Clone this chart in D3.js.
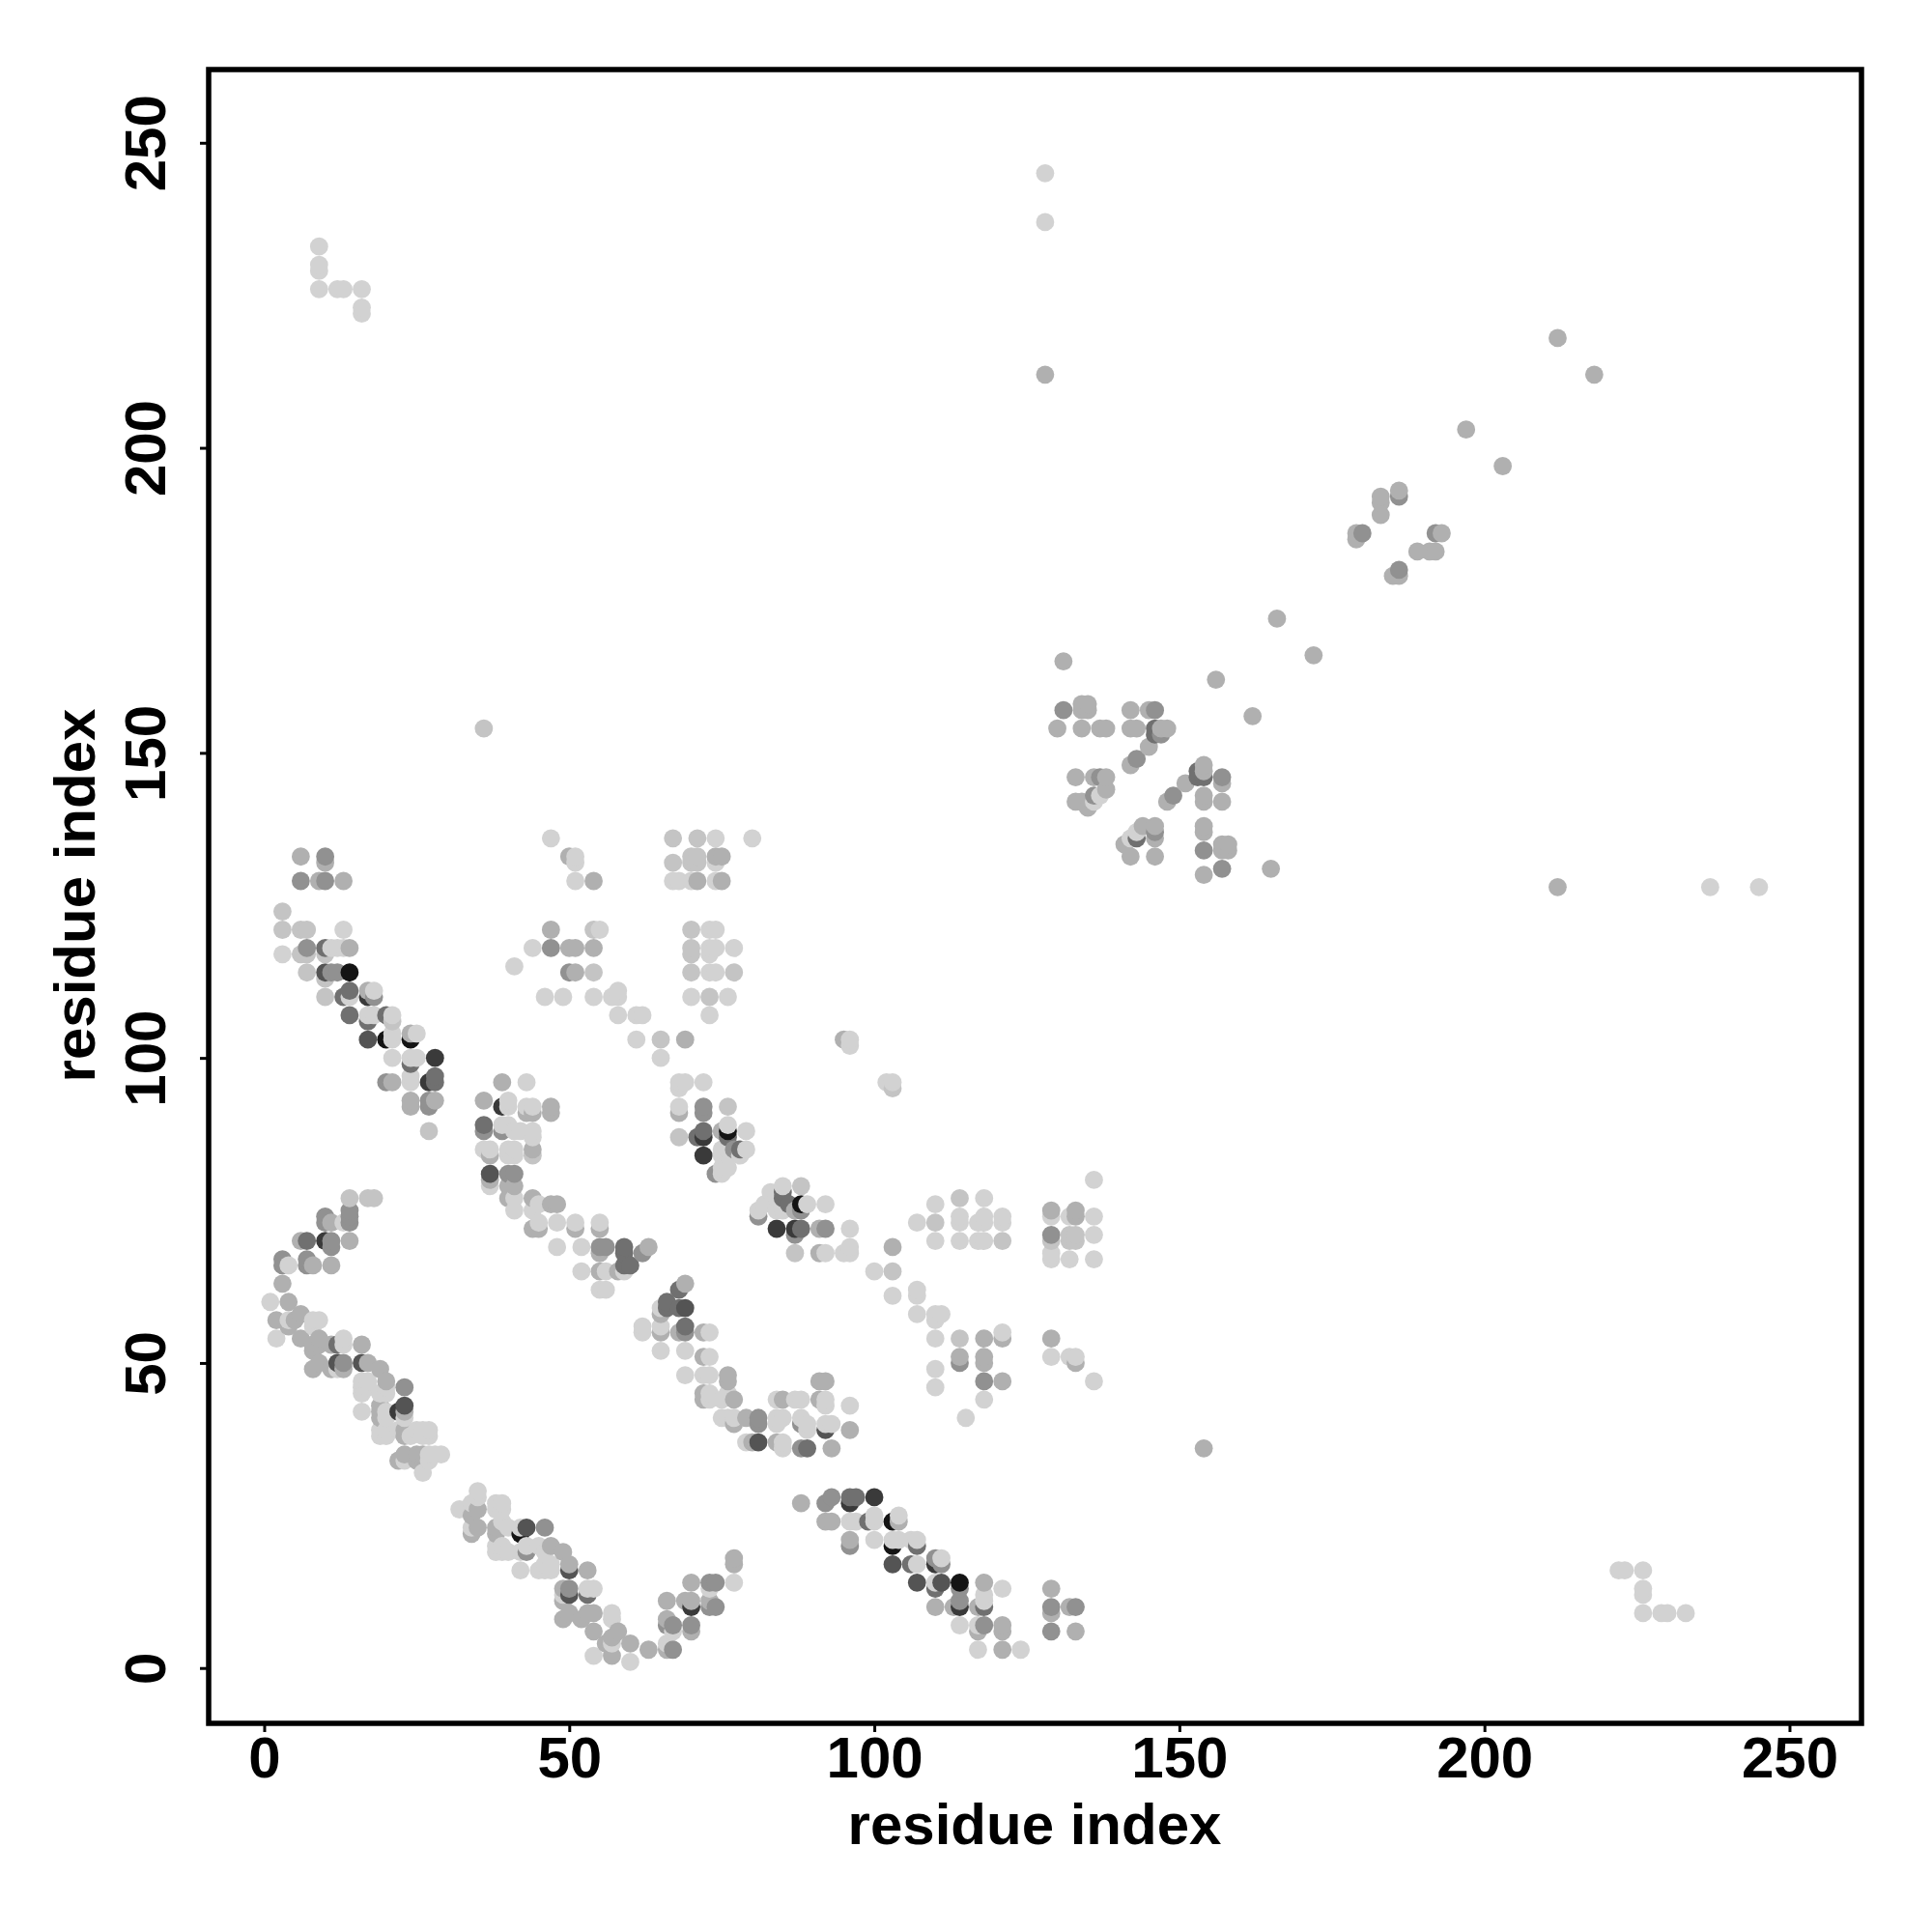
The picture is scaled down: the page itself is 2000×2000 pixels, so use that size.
<!DOCTYPE html>
<html><head><meta charset="utf-8">
<script src="https://cdn.jsdelivr.net/npm/d3@7"></script>
<style>html,body{margin:0;background:#fff}svg{display:block}</style></head>
<body><div id="chart"></div>
<script>
// each contact: [residue i, residue j, strength level 1 (weak) .. 8 (strong)]
const arcLow=[[14,77,2],[17,77,2],[18,77,2],[10,74,4],[14,75,4],[14,74,4],[10,73,4],[11,73,3],[13,73,1],[14,73,4],[14,70,3],[11,70,4],[11,69,4],[10,70,7],[7,70,5],[6,70,3],[11,66,3],[8,66,3],[7,67,4],[7,66,4],[4,66,1],[3,67,4],[3,66,4],[3,63,3],[1,60,1],[4,60,3],[6,58,3],[5,57,3],[2,57,3],[4,57,1],[4,56,3],[8,57,1],[9,57,1],[8,56,1],[2,54,1],[6,54,3],[9,54,3],[8,53,3],[9,53,3],[8,52,3],[13,54,1],[13,53,1],[12,53,5],[16,53,3],[11,53,3],[12,50,6],[13,50,4],[16,50,6],[17,50,3],[9,50,3],[8,49,3],[11,49,3],[12,49,1],[13,49,3],[19,49,3],[20,47,3],[16,47,1],[17,47,1],[23,46,4],[16,46,1],[17,46,1],[20,46,1],[16,45,1],[19,45,1],[20,45,1],[16,42,1],[23,43,6],[22,42,7],[23,42,3],[23,41,1],[19,43,3],[19,42,3],[20,42,1],[19,41,3],[20,41,1],[19,39,1],[19,38,1],[20,39,1],[20,38,1],[22,39,1],[23,39,3],[23,38,3],[24,38,1],[25,39,1],[26,39,1],[27,39,1],[26,38,1],[27,38,1],[22,34,3],[23,35,3],[23,34,1],[25,34,3],[25,35,3],[26,35,3],[27,35,1],[27,34,1],[29,35,1],[28,35,1],[26,32,1]];
const arcBottom=[[32,26,1],[35,29,1],[35,28,1],[34,27,1],[35,26,3],[34,25,3],[34,23,1],[34,22,3],[35,23,3],[38,27,1],[39,27,1],[38,26,1],[39,26,1],[39,24,1],[38,23,3],[38,22,3],[40,23,1],[43,23,6],[46,23,4],[42,22,8],[42,23,1],[38,20,1],[38,19,1],[39,20,1],[39,19,1],[40,19,1],[43,20,1],[43,19,4],[42,19,1],[45,20,1],[47,20,3],[49,19,3],[46,19,1],[42,16,1],[45,16,1],[46,17,1],[47,17,1],[46,16,1],[47,16,1],[50,17,3],[50,16,6],[53,16,3],[50,13,4],[50,12,6],[49,13,3],[49,12,1],[49,11,3],[53,13,1],[54,13,1],[53,12,5],[50,9,3],[49,8,3],[52,8,3],[53,9,3],[54,9,3],[57,9,1],[57,8,1],[54,6,3],[58,6,3],[57,5,3],[56,4,3],[57,4,1],[60,4,3],[54,2,1],[57,2,3],[60,1,1],[63,3,3],[66,11,3],[66,8,3],[66,7,4],[67,7,4],[66,4,1],[66,3,3],[67,3,4],[67,6,1],[70,14,3],[73,14,4],[74,14,4],[77,14,1],[77,18,3],[77,17,3],[69,11,3],[70,11,3],[70,10,7],[73,13,1],[73,11,3],[73,10,4],[74,10,4],[70,7,4],[70,6,3]];
const bandMid=[[69,63,3],[68,62,5],[66,60,5],[66,59,5],[65,59,1],[65,58,3],[68,59,5],[69,59,6],[62,56,1],[62,55,1],[65,56,1],[65,55,3],[68,55,3],[69,56,5],[69,55,4],[72,55,3],[73,55,1],[65,52,1],[69,52,1],[72,51,3],[73,51,1],[69,48,1],[72,48,1],[73,48,1],[76,48,3],[76,47,3],[72,45,3],[73,45,1],[72,44,3],[73,44,1],[75,44,1],[76,45,1],[77,44,3],[75,41,1],[76,41,1],[77,41,1],[77,40,3],[79,41,3],[81,41,4],[81,40,4],[79,37,1],[80,37,3],[81,37,6],[84,44,1],[85,44,3],[87,44,1],[88,44,1],[84,41,1],[85,41,1],[84,40,1],[84,37,3],[85,37,1],[85,36,1],[88,41,1],[89,40,1],[88,40,4],[89,39,1],[88,36,4],[89,36,5],[91,47,3],[92,47,3],[91,44,3],[92,44,1],[92,43,1],[92,40,1],[93,40,1],[92,39,6],[96,43,1],[96,39,3],[93,36,3]];
const bandLow=[[88,27,3],[92,27,4],[93,28,4],[96,28,5],[97,28,5],[96,27,7],[100,28,7],[92,24,3],[93,24,3],[96,24,1],[97,24,1],[99,24,5],[100,25,1],[100,24,1],[103,24,8],[104,25,1],[104,24,3],[96,21,3],[96,20,4],[100,21,1],[103,21,1],[103,20,8],[104,21,1],[106,21,1],[107,21,1],[107,20,5],[103,17,6],[106,17,5],[107,17,1],[110,18,4],[111,18,1],[110,17,7],[111,17,4],[107,14,6],[110,14,1],[111,14,6],[110,13,5],[114,14,8],[114,13,4],[114,11,4],[114,10,7],[110,10,3],[113,10,3],[118,14,3],[118,12,1],[118,11,1],[118,10,5],[117,10,3],[121,13,1],[114,7,1],[117,7,1],[118,7,4],[117,6,3],[121,7,3],[121,6,3],[117,3,1],[121,3,3],[124,3,1],[129,13,3],[129,10,4],[129,9,3],[132,10,3],[133,10,4],[129,6,4],[133,6,3]];
const gridMid=[[100,65,1],[103,65,2],[103,61,1],[107,62,1],[107,61,1],[107,58,1],[110,58,1],[111,58,1],[110,57,1],[110,54,1],[114,54,2],[118,54,3],[121,55,1],[121,54,3],[114,51,3],[114,50,4],[118,51,3],[118,50,3],[110,49,1],[110,46,1],[118,47,4],[121,47,3],[118,44,1],[115,41,1],[129,54,3],[129,51,1],[132,51,1],[133,51,1],[133,50,3],[136,47,1],[154,36,3],[110,76,1],[107,73,1],[110,73,2],[110,70,1],[114,77,2],[114,74,1],[114,73,1],[114,70,1],[118,77,1],[118,74,1],[117,73,1],[118,73,1],[117,70,1],[118,70,1],[121,74,1],[121,73,1],[121,70,2],[129,75,3],[129,74,1],[133,75,3],[133,74,3],[132,74,1],[136,74,1],[136,80,1],[129,71,4],[129,70,2],[132,71,2],[133,71,2],[132,70,2],[133,70,2],[136,71,1],[129,68,1],[129,67,1],[132,67,1],[136,67,1],[103,69,3]];
const helixUpper=[[6,133,3],[10,133,4],[10,132,3],[6,129,4],[9,129,3],[10,129,4],[13,129,3],[3,124,2],[3,121,2],[6,121,2],[7,121,2],[13,121,1],[3,117,1],[6,117,2],[7,118,4],[7,117,2],[10,118,5],[10,117,2],[11,118,1],[12,118,1],[13,118,1],[14,118,3],[7,114,2],[10,114,6],[11,114,4],[12,114,4],[14,114,8],[10,113,2],[10,110,2],[13,110,5],[14,111,5],[14,110,1],[17,111,3],[18,111,1],[17,110,7],[18,110,4],[14,107,5],[17,107,1],[18,107,1],[17,106,5],[20,107,5],[21,107,1],[21,106,2],[17,103,6],[20,103,8],[21,104,1],[21,103,1],[24,104,3],[25,104,1],[24,103,8],[21,100,1],[24,100,1],[25,100,1],[24,99,5],[28,100,7],[20,96,4],[21,96,3],[24,97,1],[24,96,1],[27,96,7],[28,97,5],[28,96,5],[24,93,3],[24,92,3],[27,93,4],[27,92,4],[28,93,3],[27,88,2]];
const sheetUpper=[[47,136,1],[50,133,3],[51,133,1],[51,132,1],[51,129,1],[54,129,3],[47,121,3],[54,121,2],[55,121,1],[44,118,1],[47,118,4],[50,118,3],[51,118,3],[54,118,3],[41,115,1],[50,114,4],[51,114,3],[54,114,2],[46,110,1],[49,110,1],[54,110,1],[57,110,1],[58,111,1],[58,110,1],[58,107,1],[61,107,1],[62,107,1],[61,103,1],[65,103,2],[69,103,3],[65,100,1],[36,154,2]];
const gridUpper=[[67,136,2],[71,136,2],[74,136,1],[80,136,1],[67,132,2],[70,133,2],[71,133,2],[70,132,2],[71,132,2],[74,133,3],[75,133,3],[74,132,1],[67,129,1],[68,129,1],[70,129,1],[71,129,3],[74,129,1],[75,129,3],[70,121,2],[73,121,1],[74,121,1],[70,118,2],[70,117,2],[73,118,1],[74,118,1],[73,117,1],[77,118,1],[70,114,2],[73,114,1],[74,114,1],[77,114,2],[70,110,1],[73,110,2],[76,110,1],[73,107,1],[95,103,3],[96,103,1],[96,102,1],[102,96,1],[103,96,1],[103,95,2]];
const clusterMid=[[68,96,1],[69,96,1],[68,95,1],[72,96,1],[68,92,1],[68,91,3],[72,92,4],[72,91,4],[76,92,2],[68,87,2],[71,87,5],[72,88,5],[72,87,7],[72,84,7],[75,88,3],[76,89,1],[76,88,8],[76,87,5],[79,88,1],[75,85,1],[76,85,1],[77,85,4],[78,85,5],[79,85,1],[78,84,1],[75,84,1],[76,84,1],[74,81,4],[75,81,1],[76,82,1],[75,82,1],[81,75,1],[81,74,4],[82,76,1],[83,78,1],[84,77,1],[85,79,1],[85,78,5],[85,77,5],[84,75,1],[85,75,1],[86,76,5],[88,79,2],[88,76,8],[89,76,1],[87,75,3],[88,75,4],[92,76,1],[84,72,7],[87,72,7],[88,72,5],[87,71,4],[91,72,3],[92,72,4],[96,72,1],[96,69,1],[95,68,1],[96,68,1],[87,68,2],[91,68,3],[92,68,1]];
const bandUpper=[[39,96,3],[43,96,1],[36,93,3],[39,92,7],[40,93,1],[40,92,1],[43,92,1],[44,92,1],[43,91,3],[44,91,3],[47,92,3],[47,91,3],[36,89,5],[36,88,4],[39,89,1],[40,89,1],[39,88,4],[41,88,1],[42,88,1],[44,88,1],[44,87,1],[36,85,1],[37,85,1],[37,84,3],[40,85,1],[41,85,1],[40,84,1],[41,84,1],[44,85,3],[44,84,2],[37,81,6],[37,80,3],[37,79,1],[40,81,4],[41,81,4],[40,79,3],[41,79,3],[40,77,3],[41,77,1],[41,75,1],[44,77,3],[45,76,1],[47,76,3],[48,76,3],[44,75,1],[44,72,3],[45,73,1],[45,72,3],[48,73,1],[51,73,1],[51,72,3],[55,73,1],[55,72,3],[48,69,1],[52,69,1],[55,69,4],[56,69,4],[55,68,3],[59,69,5],[59,68,5],[62,68,4],[63,69,3],[59,66,5],[60,66,5],[52,65,1],[55,65,3],[56,65,1],[58,65,3],[59,65,1],[55,62,1],[56,62,1]];
const domainLate=[[131,165,3],[156,162,3],[162,156,3],[131,157,4],[134,158,3],[135,158,3],[134,157,3],[135,157,3],[130,154,3],[134,154,3],[137,154,3],[138,154,3],[142,157,3],[145,157,3],[146,157,4],[142,154,3],[143,154,3],[146,154,5],[146,153,5],[147,153,4],[147,154,3],[148,154,3],[145,151,3],[143,149,4],[142,148,3],[133,146,3],[136,146,3],[137,146,4],[138,146,3],[138,144,3],[136,143,4],[137,143,1],[136,142,1],[133,142,3],[134,142,3],[135,141,3],[154,148,3],[154,147,3],[153,147,5],[153,146,5],[154,146,5],[157,146,4],[157,145,3],[151,145,3],[149,143,4],[148,142,3],[154,143,3],[154,142,3],[157,142,3],[154,138,3],[154,137,3],[144,138,3],[146,138,3],[146,137,4],[146,136,3],[143,136,5],[143,137,1],[142,136,1],[141,135,3],[142,133,3],[146,133,3],[154,134,4],[157,135,3],[158,135,3],[157,134,3],[158,134,3],[157,131,4],[154,130,3],[165,131,3],[166,172,3],[172,166,3]];
const diagonalFar=[[186,193,3],[186,192,4],[183,192,3],[183,191,3],[183,189,3],[179,186,3],[179,185,3],[180,186,4],[192,186,4],[193,186,3],[189,183,3],[191,183,3],[192,183,3],[186,180,4],[185,179,3],[186,179,3],[197,203,3],[203,197,3],[212,218,3],[218,212,3],[128,212,3],[212,128,3],[237,128,1],[245,128,1],[128,245,1],[128,237,1]];
const cornerTop=[[9,233,1],[9,230,1],[9,229,1],[9,226,1],[12,226,1],[13,226,1],[16,226,1],[16,223,1],[16,222,1]];
const cornerBottom=[[222,16,1],[223,16,1],[226,16,1],[226,13,1],[226,12,1],[226,9,1],[229,9,1],[230,9,1],[233,9,1]];
const strengthGreys=["#d2d2d2","#c4c4c4","#b0b0b0","#919191","#707070","#545454","#3a3a3a","#141414"];
const tickValues=[0,50,100,150,200,250];
const axisTitle="residue index";

const contacts=[...arcLow,...arcBottom,...bandMid,...bandLow,...gridMid,...helixUpper,...sheetUpper,...gridUpper,...clusterMid,...bandUpper,...domainLate,...diagonalFar,...cornerTop,...cornerBottom]
  .slice().sort((a,b)=>d3.ascending(a[0],b[0])||d3.ascending(a[1],b[1]));

const frame={left:216,right:1927,top:72,bottom:1784};
const x=d3.scaleLinear().domain([-9.1,261.8]).range([frame.left,frame.right]);
const y=d3.scaleLinear().domain([-9.07,262.0]).range([frame.bottom,frame.top]);
const grey=d3.scaleOrdinal().domain(d3.range(1,9)).range(strengthGreys);
const font='"Liberation Sans",Arial,sans-serif';

const svg=d3.select("#chart").append("svg").attr("width",2000).attr("height",2000).style("font-family",font);

svg.append("g").selectAll("circle").data(contacts).join("circle")
  .attr("cx",d=>x(d[0])).attr("cy",d=>y(d[1])).attr("r",9.4).attr("fill",d=>grey(d[2]));

const gx=svg.append("g").attr("transform",`translate(0,${frame.bottom})`)
  .call(d3.axisBottom(x).tickValues(tickValues).tickSize(9).tickPadding(7));
const gy=svg.append("g").attr("transform",`translate(${frame.left},0)`)
  .call(d3.axisLeft(y).tickValues(tickValues).tickSize(9));
[gx,gy].forEach(g=>{g.select(".domain").remove();g.selectAll("line").attr("stroke","#000").attr("stroke-width",3);});
gx.selectAll("text").attr("fill","#000").attr("font-size",60).attr("font-weight",700).attr("font-family",font).attr("dy",null)
  .attr("y",null).attr("transform","translate(0,56)");
gy.selectAll("text").attr("fill","#000").attr("font-size",60).attr("font-weight",700).attr("font-family",font)
  .attr("x",null).attr("dy",null).attr("text-anchor","middle")
  .attr("transform",function(d){return `translate(-45,${0}) rotate(-90)`;});

svg.append("rect").attr("x",frame.left).attr("y",frame.top).attr("width",frame.right-frame.left).attr("height",frame.bottom-frame.top)
  .attr("fill","none").attr("stroke","#000").attr("stroke-width",5.5);

svg.append("text").attr("x",1071).attr("y",1909).attr("text-anchor","middle").attr("font-size",60).attr("font-weight",700).text(axisTitle);
svg.append("text").attr("transform","translate(98,927) rotate(-90)").attr("text-anchor","middle").attr("font-size",60).attr("font-weight",700).text(axisTitle);
</script></body></html>
